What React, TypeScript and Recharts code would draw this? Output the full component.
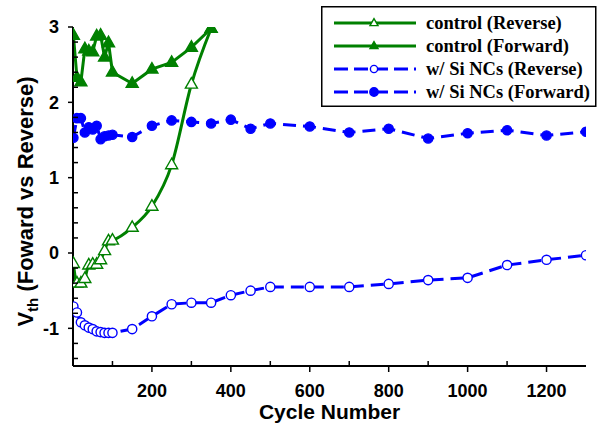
import React from "react";
import { LineChart, Line, XAxis, YAxis, Legend } from "recharts";

// cycle numbers where each curve was sampled
const siCycles = [1, 10, 20, 30, 40, 50, 60, 70, 80, 90, 100, 150, 200, 250, 300, 350, 400, 450, 500, 600, 700, 800, 900, 1000, 1100, 1200, 1300];
const controlCycles = [1, 10, 20, 30, 40, 50, 60, 70, 80, 90, 100, 150, 200, 250, 300, 350];

const controlReverse = [-0.14, -0.4, -0.4, -0.34, -0.16, -0.15, -0.15, -0.09, 0.03, 0.16, 0.17, 0.34, 0.62, 1.17, 2.24, 2.98];
const controlForward = [2.89, 2.33, 2.27, 2.71, 2.68, 2.67, 2.88, 2.89, 2.6, 2.79, 2.4, 2.25, 2.44, 2.53, 2.73, 2.98];
const siReverse = [-0.71, -0.79, -0.92, -0.96, -0.99, -1.01, -1.04, -1.05, -1.06, -1.06, -1.06, -1.01, -0.84, -0.68, -0.66, -0.66, -0.56, -0.5, -0.45, -0.45, -0.45, -0.41, -0.36, -0.33, -0.16, -0.09, -0.03];
const siForward = [1.53, 1.79, 1.79, 1.6, 1.67, 1.64, 1.69, 1.51, 1.55, 1.56, 1.57, 1.54, 1.69, 1.76, 1.74, 1.72, 1.77, 1.65, 1.72, 1.68, 1.6, 1.65, 1.52, 1.59, 1.63, 1.56, 1.61];

const xTicks = [100, 200, 300, 400, 500, 600, 700, 800, 900, 1000, 1100, 1200];
const yTicks = [-1.4, -1.2, -1, -0.8, -0.6, -0.4, -0.2, 0, 0.2, 0.4, 0.6, 0.8, 1, 1.2, 1.4, 1.6, 1.8, 2, 2.2, 2.4, 2.6, 2.8, 3];

const GREEN = "#008000";
const BLUE = "#0000ff";
const SANS = "'Liberation Sans', Arial, sans-serif";
const SERIF = "'Liberation Serif', 'Times New Roman', serif";

const toRows = (xs: number[], ys: number[]) => xs.map((cycle, i) => ({ cycle, v: ys[i] }));

// marker shapes
const triangle = (cx: number, cy: number, s: number, filled: boolean, key?: any) => (
	<path
		key={key}
		d={`M${cx},${cy - s * 1.1} L${cx - s},${cy + s * 0.65} L${cx + s},${cy + s * 0.65} Z`}
		fill={filled ? GREEN : "#fff"}
		stroke={GREEN}
		strokeWidth={1.4}
	/>
);
const circle = (cx: number, cy: number, r: number, filled: boolean, key?: any) => (
	<circle key={key} cx={cx} cy={cy} r={r} fill={filled ? BLUE : "#fff"} stroke={BLUE} strokeWidth={1.4} />
);

const series = [
	{ name: "control (Reverse)", rows: toRows(controlCycles, controlReverse), color: GREEN, dash: undefined, type: "monotone", mark: (x: number, y: number, k?: any) => triangle(x, y, 6, false, k), legendMark: (x: number, y: number) => triangle(x, y, 4, false) },
	{ name: "control (Forward)", rows: toRows(controlCycles, controlForward), color: GREEN, dash: undefined, type: "linear", mark: (x: number, y: number, k?: any) => triangle(x, y, 6, true, k), legendMark: (x: number, y: number) => triangle(x, y, 4, true) },
	{ name: "w/ Si NCs (Reverse)", rows: toRows(siCycles, siReverse), color: BLUE, dash: "13 7", type: "linear", mark: (x: number, y: number, k?: any) => circle(x, y, 4.6, false, k), legendMark: (x: number, y: number) => circle(x, y, 3.6, false) },
	{ name: "w/ Si NCs (Forward)", rows: toRows(siCycles, siForward), color: BLUE, dash: "13 7", type: "linear", mark: (x: number, y: number, k?: any) => circle(x, y, 4.6, true, k), legendMark: (x: number, y: number) => circle(x, y, 4.2, true) },
];

const BottomTick = (props: any) => {
	const { x, y, payload } = props;
	const v = payload.value;
	const axisY = y - 18; // tickSize 6 + tickMargin 12
	if (v % 200 !== 0) {
		return <line x1={x} x2={x} y1={axisY} y2={axisY - 5} stroke="#000" strokeWidth={1.5} />;
	}
	return (
		<g>
			<line x1={x} x2={x} y1={axisY} y2={axisY + 6} stroke="#000" strokeWidth={1.5} />
			<text x={x} y={y} dy="0.71em" textAnchor="middle" fontFamily={SANS} fontWeight="bold" fontSize={18} fill="#000">
				{v}
			</text>
		</g>
	);
};

const TopTick = (props: any) => {
	const { x, y, payload } = props;
	if (payload.value % 200 === 0) return <g />;
	return <line x1={x} x2={x} y1={y} y2={y + 5} stroke="#000" strokeWidth={1.5} />;
};

const LeftTick = (props: any) => {
	const { x, y, payload } = props;
	const v = payload.value;
	const axisX = x + 14; // tickSize 5 + tickMargin 9
	const major = Math.abs(v - Math.round(v)) < 1e-6;
	if (!major) {
		return <line x1={axisX} x2={axisX + 5} y1={y} y2={y} stroke="#000" strokeWidth={1.5} />;
	}
	return (
		<g>
			<line x1={axisX - 5} x2={axisX} y1={y} y2={y} stroke="#000" strokeWidth={1.5} />
			<text x={x} y={y} dy="0.36em" textAnchor="end" fontFamily={SANS} fontWeight="bold" fontSize={18} fill="#000">
				{Math.round(v)}
			</text>
		</g>
	);
};

// legend drawn in series order (recharts would sort it by name)
const renderLegend = () => (
	<svg width={276} height={101} style={{ display: "block" }}>
		<rect x={0.75} y={0.75} width={274} height={99.5} fill="#fff" stroke="#000" strokeWidth={1.5} />
		{series.map((s, i) => {
			const y = 17 + i * 23;
			return (
				<g key={s.name}>
					<line x1={13} x2={95} y1={y} y2={y} stroke={s.color} strokeWidth={3} strokeDasharray={s.dash ? "14 6" : undefined} />
					{s.legendMark(53, y)}
					<text x={105} y={y} dy="0.33em" fontFamily={SERIF} fontWeight="bold" fontSize={18.5} fill="#000">
						{s.name}
					</text>
				</g>
			);
		})}
	</svg>
);

const App: React.FC = () => {
	return (
		<div style={{ position: "absolute", left: 0, top: 0, background: "#fff" }}>
			<LineChart width={597} height={429} margin={{ top: 27, right: 11, bottom: 0, left: 0 }}>
				<XAxis
					xAxisId="top"
					orientation="top"
					type="number"
					domain={[0, 1300]}
					ticks={xTicks}
					interval={0}
					height={0}
					tickSize={0}
					tickMargin={0}
					tickLine={false}
					tick={<TopTick />}
					axisLine={{ stroke: "#000", strokeWidth: 2 }}
				/>
				<YAxis
					yAxisId="right"
					orientation="right"
					type="number"
					domain={[-1.5, 3]}
					width={0}
					tick={false}
					tickLine={false}
					axisLine={{ stroke: "#000", strokeWidth: 2 }}
				/>
				<XAxis
					dataKey="cycle"
					type="number"
					domain={[0, 1300]}
					ticks={xTicks}
					interval={0}
					height={63}
					tickSize={6}
					tickMargin={12}
					tickLine={false}
					tick={<BottomTick />}
					axisLine={{ stroke: "#000", strokeWidth: 2 }}
					allowDataOverflow
					label={(p: any) => (
						<text x={329.5} y={p.viewBox.y + 53} textAnchor="middle" fontFamily={SANS} fontWeight="bold" fontSize={21} fill="#000">
							Cycle Number
						</text>
					)}
				/>
				<YAxis
					type="number"
					domain={[-1.5, 3]}
					ticks={yTicks}
					interval={0}
					width={73}
					tickSize={5}
					tickMargin={9}
					tickLine={false}
					tick={<LeftTick />}
					axisLine={{ stroke: "#000", strokeWidth: 2 }}
					allowDataOverflow
					label={(p: any) => (
						<text
							transform={`translate(${p.viewBox.x + 33}, ${p.viewBox.y + p.viewBox.height / 2 + 5}) rotate(-90)`}
							textAnchor="middle"
							fontFamily={SANS}
							fontWeight="bold"
							fontSize={22}
							fill="#000"
						>
							<tspan>V</tspan>
							<tspan fontSize={15} dy={5}>th</tspan>
							<tspan dy={-5}> (Foward vs Reverse)</tspan>
						</text>
					)}
				/>
				{series.map((s) => (
					<Line
						key={s.name}
						name={s.name}
						data={s.rows}
						dataKey="v"
						type={s.type as any}
						stroke={s.color}
						strokeWidth={3}
						strokeDasharray={s.dash}
						dot={(p: any) => s.mark(p.cx, p.cy, p.index)}
						activeDot={false}
						isAnimationActive={false}
					/>
				))}
				<Legend
					layout="vertical"
					align="center"
					verticalAlign="middle"
					content={renderLegend}
					wrapperStyle={{ left: 321, top: 6, width: 276, height: 101 }}
				/>
			</LineChart>
		</div>
	);
};

export default App;
